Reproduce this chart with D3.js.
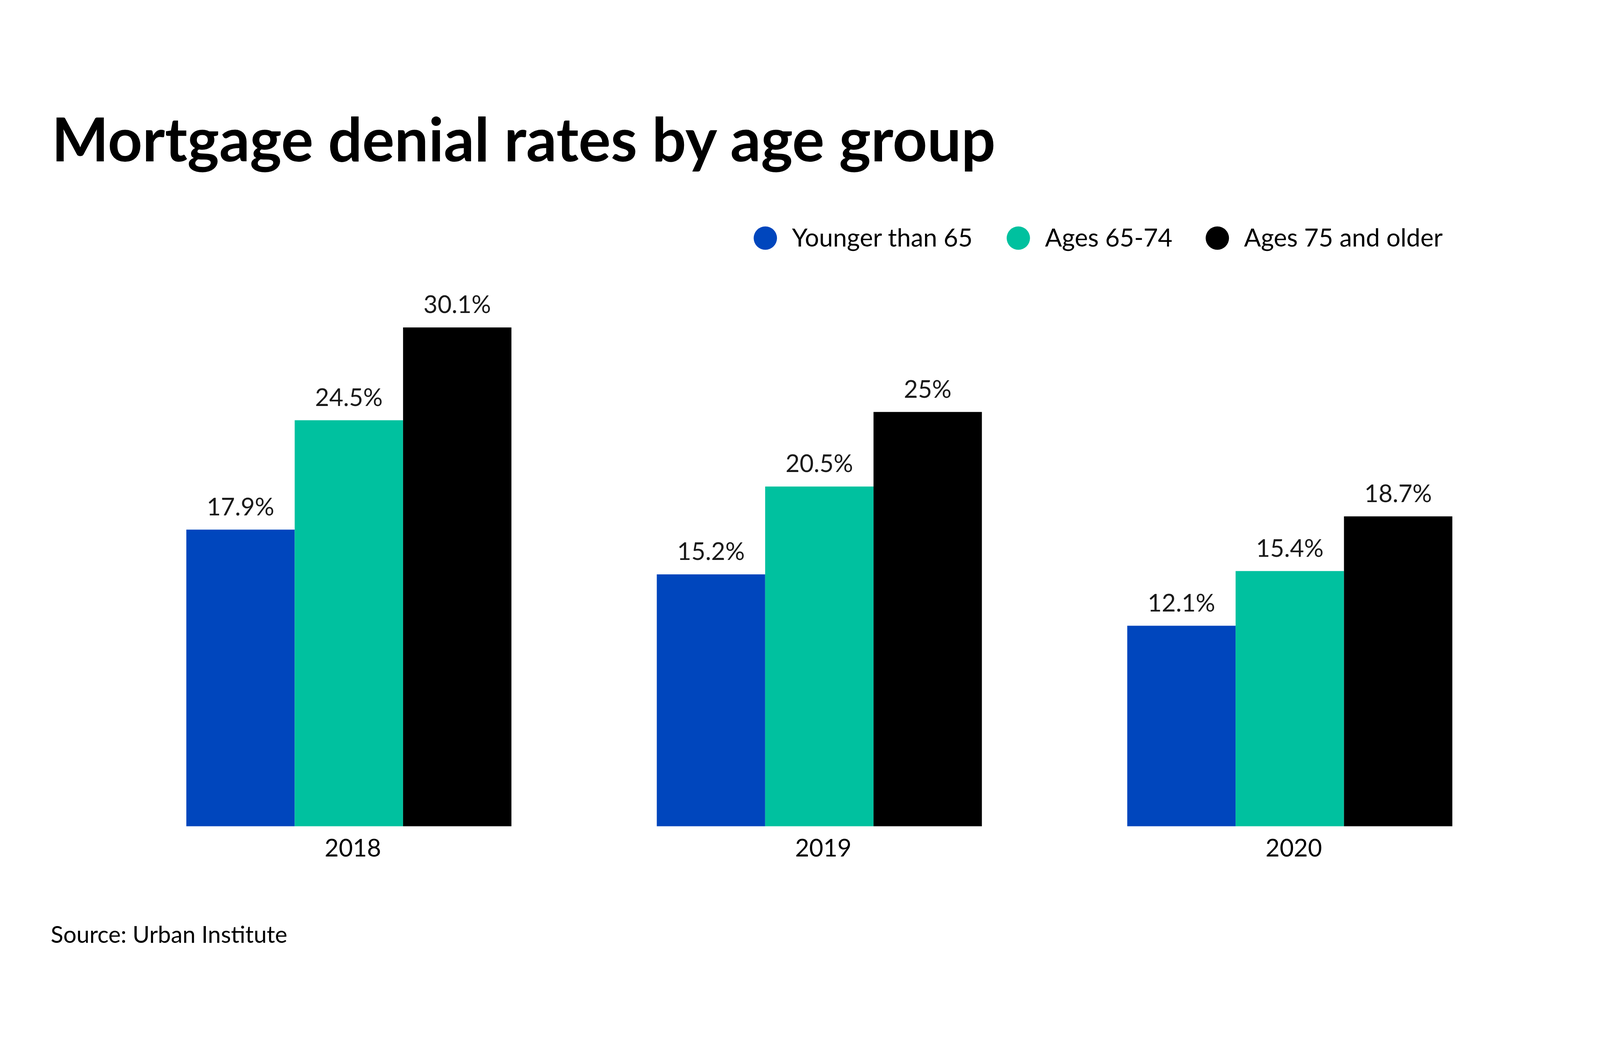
<!DOCTYPE html>
<html>
<head>
<meta charset="utf-8">
<script src="https://cdn.jsdelivr.net/npm/d3@7"></script>
<style>
  html, body { margin: 0; padding: 0; background: #fff; overflow: hidden; }
  svg { display: block; width: 100vw; height: 100vh; }
  text { font-family: Lato, "Open Sans", sans-serif; }
</style>
</head>
<body>
<svg id="chart" viewBox="0 0 4800 2700" preserveAspectRatio="xMidYMid meet"></svg>
<script>
const years = ["2018", "2019", "2020"];
const groups = ["Younger than 65", "Ages 65-74", "Ages 75 and older"];
const colors = ["#0046BD", "#00C19F", "#000000"];
const younger = [17.9, 15.2, 12.1];
const ages6574 = [24.5, 20.5, 15.4];
const ages75 = [30.1, 25, 18.7];
const valueLabels = [
  ["17.9%", "15.2%", "12.1%"],
  ["24.5%", "20.5%", "15.4%"],
  ["30.1%", "25%", "18.7%"]
];

const width = 4800;
const height = 2700;
const baseline = 2246;

const series = [younger, ages6574, ages75];
const rows = [];
series.forEach((vals, s) => {
  vals.forEach((v, i) => rows.push({ year: years[i], group: groups[s], value: v, label: valueLabels[s][i] }));
});

const svg = d3.select("#chart");

svg.append("rect").attr("width", width).attr("height", height).attr("fill", "#fff");

const x0 = d3.scaleBand()
  .domain(years)
  .range([559, 4357])
  .paddingInner(0.309)
  .paddingOuter(0);

const x1 = d3.scaleBand()
  .domain(groups)
  .range([0, x0.bandwidth()]);

const y = d3.scaleLinear()
  .domain([0, 30.1])
  .range([baseline, 750]);

const color = d3.scaleOrdinal().domain(groups).range(colors);

// title
svg.append("text")
  .attr("x", 155)
  .attr("y", 252)
  .attr("font-size", 181)
  .attr("font-weight", 700)
  .attr("fill", "#000")
  .text("Mortgage denial rates by age group");

// legend
const legendX = [2296, 3055, 3652];
const legend = svg.append("g");
groups.forEach((g, i) => {
  legend.append("circle")
    .attr("cx", legendX[i])
    .attr("cy", 482)
    .attr("r", 35)
    .attr("fill", color(g));
  legend.append("text")
    .attr("x", legendX[i] + 80)
    .attr("y", 507)
    .attr("font-size", 75)
    .attr("fill", "#000")
    .text(g);
});

// bars
svg.append("g")
  .selectAll("rect")
  .data(rows)
  .join("rect")
  .attr("x", d => x0(d.year) + x1(d.group))
  .attr("y", d => y(d.value))
  .attr("width", x1.bandwidth())
  .attr("height", d => baseline - y(d.value))
  .attr("fill", d => color(d.group));

// value labels
svg.append("g")
  .selectAll("text")
  .data(rows)
  .join("text")
  .attr("x", d => x0(d.year) + x1(d.group) + x1.bandwidth() / 2)
  .attr("y", d => y(d.value) - 43)
  .attr("text-anchor", "middle")
  .attr("font-size", 73)
  .attr("fill", "#1a1a1a")
  .text(d => d.label);

// x axis
const xAxis = svg.append("g")
  .attr("transform", `translate(0,${baseline})`)
  .call(d3.axisBottom(x0).tickSize(0).tickPadding(0));
xAxis.select(".domain").remove();
xAxis.selectAll("text")
  .attr("y", 91)
  .attr("dy", 0)
  .attr("dx", 12)
  .attr("font-size", 73)
  .attr("font-family", "Lato, sans-serif")
  .attr("fill", "#000");

// source
svg.append("text")
  .attr("x", 152)
  .attr("y", 2596)
  .attr("font-size", 70)
  .attr("fill", "#000")
  .text("Source: Urban Institute");
</script>
</body>
</html>
